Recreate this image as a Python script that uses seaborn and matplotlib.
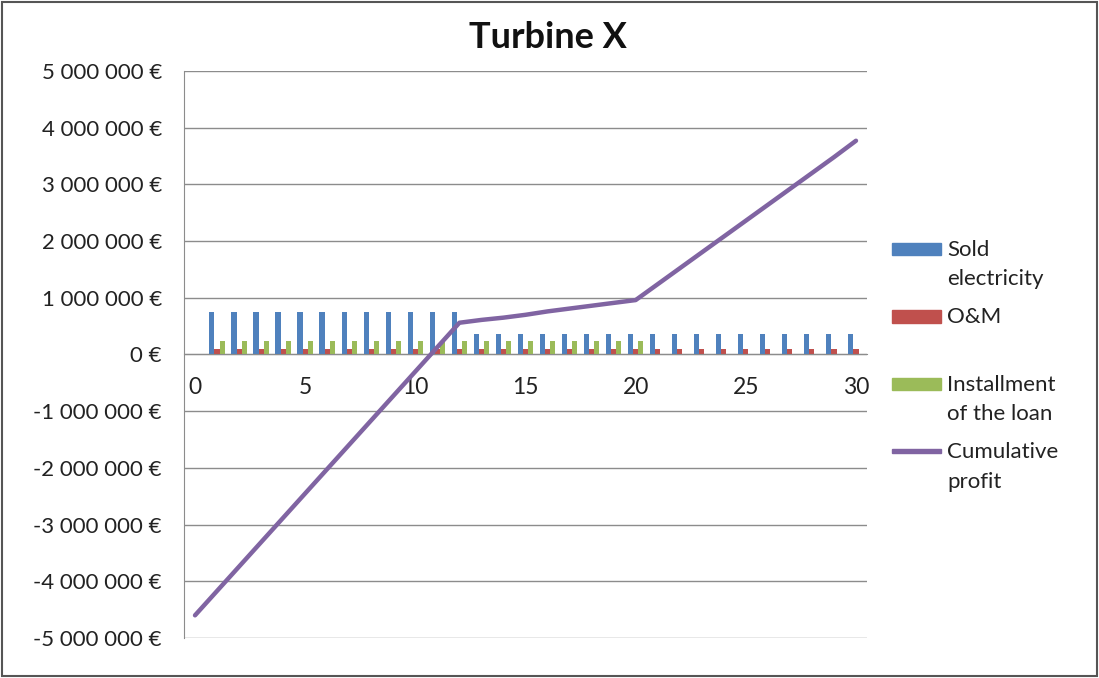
import numpy as np
import pandas as pd
import matplotlib
matplotlib.use('Agg')
import matplotlib.pyplot as plt
import seaborn as sns
from matplotlib.patches import Patch, Rectangle
from matplotlib.legend_handler import HandlerPatch
from matplotlib.ticker import FuncFormatter

# data
years = list(range(1, 31))
sold = [750000, 750000, 750000, 750000, 750000, 750000, 750000, 750000, 750000, 750000,
        750000, 750000, 370000, 370000, 370000, 370000, 370000, 370000, 370000, 370000,
        370000, 370000, 370000, 370000, 370000, 370000, 370000, 370000, 370000, 370000]
om = [90000, 90000, 90000, 90000, 90000, 90000, 90000, 90000, 90000, 90000,
      90000, 90000, 90000, 90000, 90000, 90000, 90000, 90000, 90000, 90000,
      90000, 90000, 90000, 90000, 90000, 90000, 90000, 90000, 90000, 90000]
installment = [230000, 230000, 230000, 230000, 230000, 230000, 230000, 230000, 230000, 230000,
               230000, 230000, 230000, 230000, 230000, 230000, 230000, 230000, 230000, 230000,
               0, 0, 0, 0, 0, 0, 0, 0, 0, 0]
line_years = list(range(0, 31))
cumulative = [-4600000, -4170000, -3740000, -3310000, -2880000, -2450000, -2020000, -1590000,
              -1160000, -730000, -300000, 130000, 560000, 610000, 650000, 700000, 760000,
              810000, 860000, 910000, 960000, 1240000, 1520000, 1800000, 2080000, 2360000,
              2640000, 2920000, 3200000, 3480000, 3770000]
series_names = ['Sold\nelectricity', 'O&M', 'Installment\nof the loan']
colors = ['#4F81BD', '#C0504D', '#9BBB59']
line_color = '#8064A2'

df = pd.DataFrame({
    'year': years * 3,
    'value': sold + om + installment,
    'series': [series_names[0]] * 30 + [series_names[1]] * 30 + [series_names[2]] * 30,
})

sns.set_style('white')
plt.rcParams['font.family'] = ['Lato', 'DejaVu Sans']

fig = plt.figure(figsize=(10.99, 6.78), dpi=100)
ax = fig.add_axes([184 / 1099, 1 - 638 / 678, (867 - 184) / 1099, (638 - 71) / 678])

sns.barplot(data=df, x='year', y='value', hue='series', order=list(range(31)),
            hue_order=series_names, palette=colors, width=0.7, saturation=1,
            linewidth=0, edgecolor='none', legend=False, ax=ax, zorder=2)
ax.plot(line_years, cumulative, color=line_color, lw=3.2, solid_capstyle='round', zorder=3)

ax.set_xlim(-0.5, 30.5)
ax.set_ylim(-5000000, 5000000)
ax.set_yticks(np.arange(-5000000, 5000001, 1000000))


def euro(v, pos):
    s = '{:,.0f}'.format(abs(v)).replace(',', ' ')
    return ('-' if v < 0 else '') + s + ' €'


ax.yaxis.set_major_formatter(FuncFormatter(euro))
ax.yaxis.grid(True, color='#8c8c8c', lw=1)
ax.set_axisbelow(True)

ax.set_xticks([0, 5, 10, 15, 20, 25, 30])
ax.set_xticklabels(['0', '5', '10', '15', '20', '25', '30'])
ax.set_xticks([4.5, 9.5, 14.5, 19.5, 24.5, 29.5], minor=True)
ax.tick_params(axis='x', which='major', length=0, pad=16, labelsize=16.5, colors='#222222')
ax.tick_params(axis='x', which='minor', length=7, color='#8c8c8c', direction='out')
ax.tick_params(axis='y', which='major', length=6, color='#8c8c8c', direction='out',
               labelsize=16, labelcolor='#222222', pad=10)
ax.set_xlabel('')
ax.set_ylabel('')

for s in ['top', 'right']:
    ax.spines[s].set_visible(False)
ax.spines['bottom'].set_position(('data', 0))
ax.spines['bottom'].set_color('#8c8c8c')
ax.spines['left'].set_color('#8c8c8c')

fig.text(548 / 1099, 1 - 38 / 678, 'Turbine X', ha='center', va='center',
         fontsize=26, fontweight='bold', color='#111111')


def top_rect(legend, orig_handle, xdescent, ydescent, width, height, fontsize):
    return Rectangle((-xdescent, -ydescent + 12.5), width, height * 0.8)


def top_line(legend, orig_handle, xdescent, ydescent, width, height, fontsize):
    return Rectangle((-xdescent, -ydescent + 12.5 + height * 0.3), width, 2.4)


handles = [Patch(color=colors[0]), Patch(color=colors[1]), Patch(color=colors[2]),
           Patch(color=line_color)]
labels = ['Sold\nelectricity', 'O&M\n ', 'Installment\nof the loan', 'Cumulative\nprofit']
hmap = {handles[0]: HandlerPatch(patch_func=top_rect),
        handles[1]: HandlerPatch(patch_func=top_rect),
        handles[2]: HandlerPatch(patch_func=top_rect),
        handles[3]: HandlerPatch(patch_func=top_line)}
leg = fig.legend(handles, labels, handler_map=hmap, loc='upper left',
                 bbox_to_anchor=(883 / 1099, 1 - 231 / 678), frameon=False,
                 fontsize=16, handlelength=2.2, handletextpad=0.3, labelspacing=0.8,
                 borderaxespad=0)
for t in leg.get_texts():
    t.set_linespacing(1.6)
    t.set_color('#222222')

fig.patches.append(Rectangle((0.002, 0.003), 0.996, 0.994, transform=fig.transFigure,
                             fill=False, edgecolor='#555555', lw=1.5))

fig.savefig('out.png', dpi=100)
